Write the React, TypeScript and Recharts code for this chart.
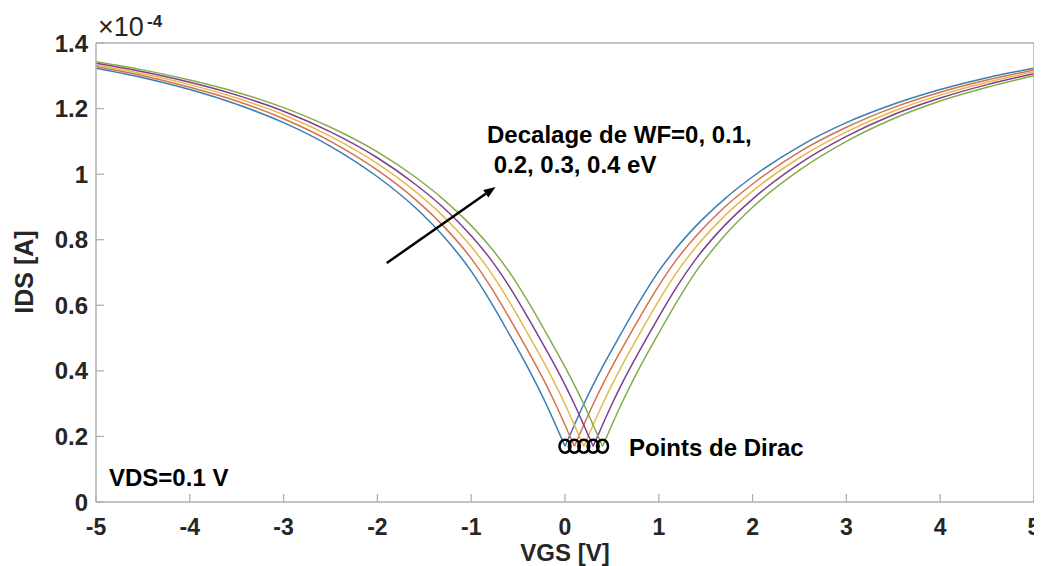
import {
  ComposedChart,
  Line,
  Scatter,
  XAxis,
  YAxis,
  ReferenceLine
} from "recharts";

// VGS grid (V) and IDS (x1e-4 A) for each work-function shift
const VGS = [-5, -4.5, -4, -3.5, -3, -2.5, -2, -1.6, -1.3, -1, -0.8, -0.6, -0.4, -0.2, -0.1, 0, 0.1, 0.2, 0.3, 0.4, 0.5, 0.6, 0.8, 1, 1.2, 1.4, 1.7, 2, 2.5, 3, 3.5, 4, 4.5, 5]
const IDS_WF0 = [1.323, 1.294, 1.258, 1.213, 1.157, 1.085, 0.992, 0.899, 0.812, 0.704, 0.614, 0.515, 0.412, 0.298, 0.235, 0.170, 0.235, 0.298, 0.357, 0.412, 0.464, 0.515, 0.614, 0.704, 0.779, 0.843, 0.924, 0.992, 1.085, 1.157, 1.213, 1.258, 1.294, 1.323]
const IDS_WF1 = [1.328, 1.300, 1.265, 1.223, 1.169, 1.100, 1.012, 0.924, 0.843, 0.743, 0.660, 0.565, 0.464, 0.357, 0.298, 0.235, 0.170, 0.235, 0.298, 0.357, 0.412, 0.464, 0.565, 0.660, 0.743, 0.812, 0.899, 0.970, 1.068, 1.143, 1.203, 1.250, 1.287, 1.318]
const IDS_WF2 = [1.333, 1.306, 1.273, 1.232, 1.181, 1.115, 1.032, 0.948, 0.872, 0.779, 0.704, 0.614, 0.515, 0.412, 0.357, 0.298, 0.235, 0.170, 0.235, 0.298, 0.357, 0.412, 0.515, 0.614, 0.704, 0.779, 0.872, 0.948, 1.050, 1.129, 1.192, 1.241, 1.280, 1.312]
const IDS_WF3 = [1.338, 1.312, 1.280, 1.241, 1.192, 1.129, 1.050, 0.970, 0.899, 0.812, 0.743, 0.660, 0.565, 0.464, 0.412, 0.357, 0.298, 0.235, 0.170, 0.235, 0.298, 0.357, 0.464, 0.565, 0.660, 0.743, 0.843, 0.924, 1.032, 1.115, 1.181, 1.232, 1.273, 1.306]
const IDS_WF4 = [1.343, 1.318, 1.287, 1.250, 1.203, 1.143, 1.068, 0.992, 0.924, 0.843, 0.779, 0.704, 0.614, 0.515, 0.464, 0.412, 0.357, 0.298, 0.235, 0.170, 0.235, 0.298, 0.412, 0.515, 0.614, 0.704, 0.812, 0.899, 1.012, 1.100, 1.169, 1.223, 1.265, 1.300]

const DIRAC_VGS = [0, 0.1, 0.2, 0.3, 0.4]
const DIRAC_IDS = [0.17, 0.17, 0.17, 0.17, 0.17]

const X_TICKS = [-5, -4, -3, -2, -1, 0, 1, 2, 3, 4, 5]
const Y_TICKS = [0, 0.2, 0.4, 0.6, 0.8, 1, 1.2, 1.4]

const SERIES = [
  { name: 'WF=0', ids: IDS_WF0, color: '#3a7db5' },
  { name: 'WF=0.1', ids: IDS_WF1, color: '#d7714a' },
  { name: 'WF=0.2', ids: IDS_WF2, color: '#e6b84c' },
  { name: 'WF=0.3', ids: IDS_WF3, color: '#7e3f8e' },
  { name: 'WF=0.4', ids: IDS_WF4, color: '#82ae4a' },
]

const AXIS = '#b0b0b0'
const FONT = '"Liberation Sans", Arial, sans-serif'
const TXT = '#262626'

function BottomTick({ x, y, payload }: any) {
  return (
    <g>
      <line x1={x} x2={x} y1={y} y2={y - 8} stroke={AXIS} strokeWidth={1.3} />
      <text x={x} y={y + 33} textAnchor="middle" fontFamily={FONT} fontWeight="bold" fontSize={23} fill={TXT}>
        {payload.value}
      </text>
    </g>
  )
}

function TopTick({ x, y }: any) {
  return <line x1={x} x2={x} y1={y} y2={y + 8} stroke={AXIS} strokeWidth={1.3} />
}

function LeftTick({ x, y, payload }: any) {
  return (
    <g>
      <line x1={x} x2={x + 8} y1={y} y2={y} stroke={AXIS} strokeWidth={1.3} />
      <text x={x - 8} y={y + 8.5} textAnchor="end" fontFamily={FONT} fontWeight="bold" fontSize={24} fill={TXT}>
        {payload.value}
      </text>
    </g>
  )
}

function RightTick({ x, y }: any) {
  return <line x1={x} x2={x - 8} y1={y} y2={y} stroke={AXIS} strokeWidth={1.3} />
}

function Arrow(props: any) {
  const { x1, y1, x2, y2 } = props
  const ang = Math.atan2(y2 - y1, x2 - x1)
  const len = 12, half = 4.5
  const bx = x2 - len * Math.cos(ang), by = y2 - len * Math.sin(ang)
  const px = -Math.sin(ang) * half, py = Math.cos(ang) * half
  return (
    <g>
      <line x1={x1} y1={y1} x2={bx} y2={by} stroke="#000" strokeWidth={2.5} />
      <polygon points={`${x2},${y2} ${bx + px},${by + py} ${bx - px},${by - py}`} fill="#000" />
    </g>
  )
}

function DiracMark({ cx, cy }: any) {
  return <ellipse cx={cx} cy={cy} rx={5.5} ry={6.5} fill="none" stroke="#000" strokeWidth={2.5} />
}

const annot = { position: 'absolute' as const, fontFamily: FONT, fontWeight: 'bold' as const, fontSize: 24, lineHeight: 1, color: '#000', whiteSpace: 'pre' as const }

// split each curve at its Dirac point so the V bottom stays sharp
function branches(ids: number[]) {
  const pts = VGS.map((v, i) => ({ x: v, y: ids[i] }))
  const k = ids.indexOf(Math.min(...ids))
  return [pts.slice(0, k + 1), pts.slice(k)]
}

export default function App() {
  const dirac = DIRAC_VGS.map((v, i) => ({ x: v, y: DIRAC_IDS[i] }))
  return (
    <div style={{ position: 'relative', width: 1034, height: 558 }}>
      <ComposedChart width={1034} height={558} margin={{ top: 0, right: 0, bottom: 0, left: 0 }}>
        <XAxis xAxisId={0} dataKey="x" type="number" domain={[-5, 5]} ticks={X_TICKS} interval={0}
          orientation="bottom" height={64} tickSize={0} tickMargin={0}
          axisLine={{ stroke: AXIS, strokeWidth: 1.5 }} tickLine={false} tick={<BottomTick />} allowDataOverflow />
        <XAxis xAxisId="top" dataKey="x" type="number" domain={[-5, 5]} ticks={X_TICKS} interval={0}
          orientation="top" height={35} tickSize={0} tickMargin={0}
          axisLine={{ stroke: AXIS, strokeWidth: 1.5 }} tickLine={false} tick={<TopTick />} />
        <YAxis yAxisId={0} type="number" domain={[0, 1.4]} ticks={Y_TICKS} interval={0}
          orientation="left" width={88} tickSize={0} tickMargin={0}
          axisLine={{ stroke: AXIS, strokeWidth: 1.5 }} tickLine={false} tick={<LeftTick />} allowDataOverflow />
        <YAxis yAxisId="right" type="number" domain={[0, 1.4]} ticks={Y_TICKS} interval={0}
          orientation="right" width={8} tickSize={0} tickMargin={0}
          axisLine={{ stroke: AXIS, strokeWidth: 1.5 }} tickLine={false} tick={<RightTick />} />
        {SERIES.map(s => branches(s.ids).map((b, j) => (
          <Line key={s.name + j} name={s.name} data={b}
            dataKey="y" type="monotone" stroke={s.color} strokeWidth={1.5}
            dot={false} activeDot={false} isAnimationActive={false} />
        )))}
        <ReferenceLine segment={[{ x: -1.9, y: 0.729 }, { x: -0.74, y: 0.961 }]} shape={<Arrow />} ifOverflow="visible" />
        <Scatter data={dirac} dataKey="y" shape={<DiracMark />} isAnimationActive={false} />
      </ComposedChart>

      <div style={{ ...annot, fontWeight: 'normal', fontSize: 27, left: 90, top: 6, color: TXT }}>×10</div>
      <div style={{ ...annot, fontSize: 17, left: 139, top: 5, color: TXT }}>-4</div>

      <div style={{ ...annot, left: 479, top: 115 }}>Decalage de WF=0, 0.1,</div>
      <div style={{ ...annot, left: 479, top: 145 }}> 0.2, 0.3, 0.4 eV</div>
      <div style={{ ...annot, left: 621, top: 428 }}>Points de Dirac</div>
      <div style={{ ...annot, left: 101, top: 458 }}>VDS=0.1 V</div>

      <div style={{ ...annot, fontSize: 24, lineHeight: 0.7, color: TXT, left: 557, top: 537, transform: 'translateX(-50%)' }}>VGS [V]</div>
      <div style={{ ...annot, fontSize: 25, color: TXT, left: 16, top: 264, transform: 'translate(-50%, -50%) rotate(-90deg)' }}>IDS [A]</div>
    </div>
  )
}
